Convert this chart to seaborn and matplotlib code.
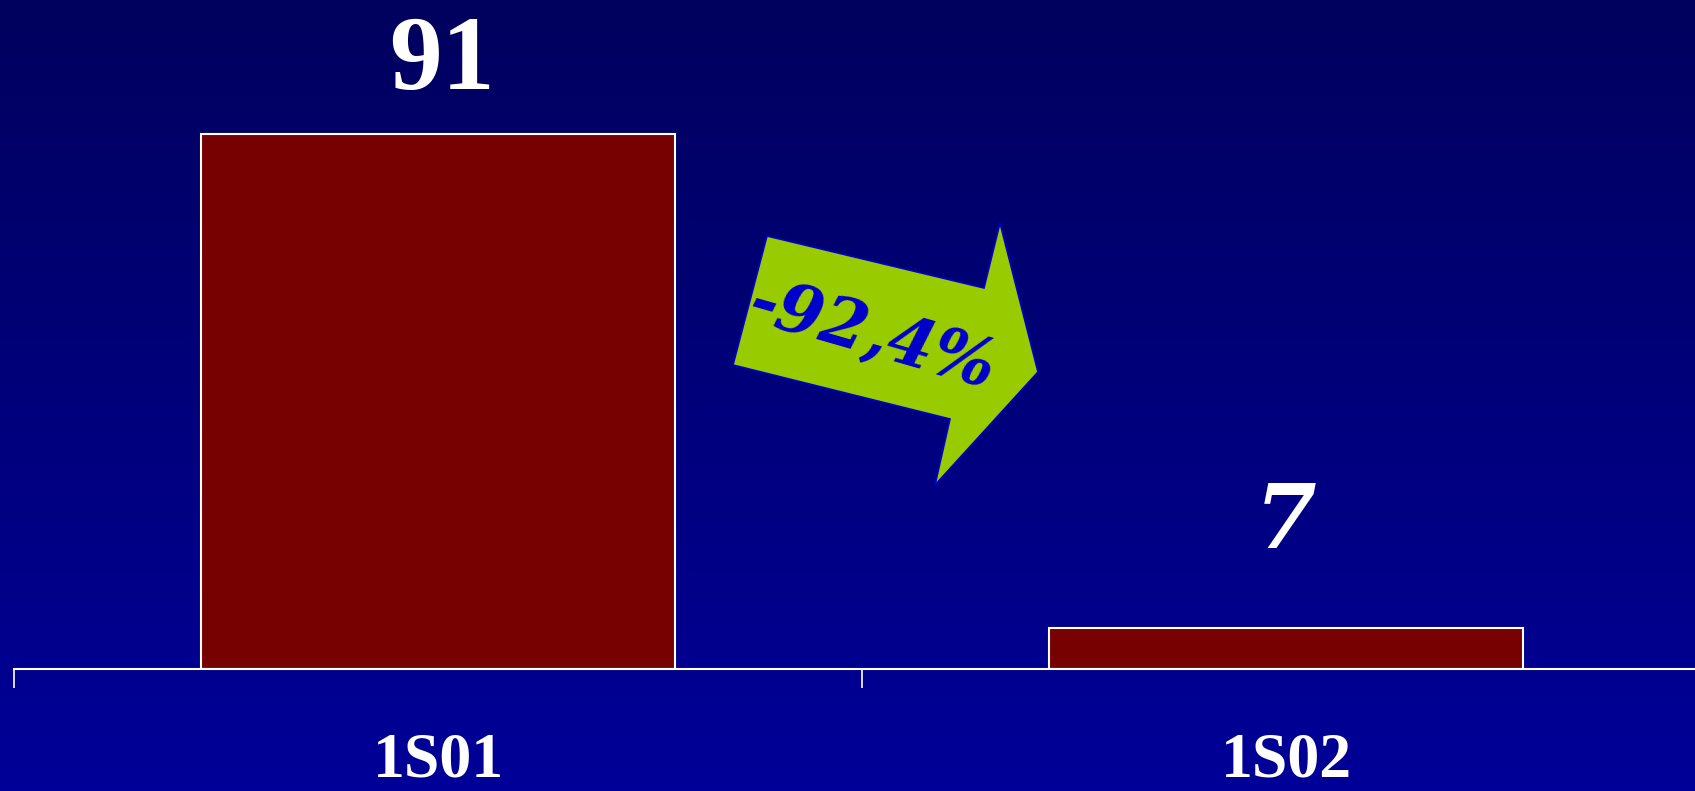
import numpy as np
import pandas as pd
import matplotlib
matplotlib.use("Agg")
import matplotlib.pyplot as plt
from matplotlib.patches import Polygon
import seaborn as sns

# data
categories = ["1S01", "1S02"]
counts = [91, 7]
change_label = "-92,4%"

df = pd.DataFrame({"period": categories, "count": counts})

sns.set_style("white")

fig = plt.figure(figsize=(16.95, 7.91), dpi=100)

# background gradient (dark navy at top -> brighter blue at bottom)
bg = fig.add_axes([0, 0, 1, 1], zorder=0)
grad = np.linspace(0, 1, 256).reshape(-1, 1)
top = np.array([0, 0, 94]) / 255
bottom = np.array([0, 0, 152]) / 255
img = top + (bottom - top) * grad[:, :, None]
bg.imshow(img, aspect="auto", extent=[0, 1, 0, 1])
bg.axis("off")

# main axes: baseline sits at y=669px, category slots 848px wide
ax = fig.add_axes([14 / 1695, 122 / 791, 1696 / 1695, 669 / 791], zorder=1)
ax.patch.set_alpha(0)

sns.barplot(data=df, x="period", y="count", ax=ax, width=0.558,
            color="#770000", edgecolor="white", linewidth=1.5, saturation=1)

ax.set_xlim(-0.5, 1.5)
ax.set_ylim(0, 113.8)
ax.set_xlabel("")
ax.set_ylabel("")
ax.set_yticks([])

for side in ["top", "right", "left"]:
    ax.spines[side].set_visible(False)
ax.spines["bottom"].set_color("white")
ax.spines["bottom"].set_linewidth(1.5)

# boundary ticks between categories, labels centred on bars
ax.set_xticks([-0.5, 0.5, 1.5])
ax.set_xticklabels([])
ax.tick_params(axis="x", which="major", length=14, width=1.2, color="white",
               direction="out", bottom=True)
ax.set_xticks([0, 1], minor=True)
ax.set_xticklabels(categories, minor=True)
ax.tick_params(axis="x", which="minor", length=0, pad=46)
for lbl in ax.get_xticklabels(minor=True):
    lbl.set_fontfamily("Liberation Serif")
    lbl.set_fontweight("bold")
    lbl.set_fontsize(46)
    lbl.set_color("white")

# value labels
ax.annotate(str(counts[0]), (0, counts[0]), xytext=(3, 16), textcoords="offset points",
            ha="center", va="bottom", color="white", fontsize=76,
            fontfamily="Liberation Serif", fontweight="bold")
ax.annotate(str(counts[1]), (1, counts[1]), xytext=(0, 44), textcoords="offset points",
            ha="center", va="bottom", color="white", fontsize=64,
            fontfamily="DejaVu Serif", fontweight="bold", fontstyle="italic")

# green arrow showing the change
px = [(767, 236), (984, 288), (1000, 223), (1038, 372), (935, 485), (950, 419), (733, 365)]
verts = [(x / 1695, 1 - y / 791) for x, y in px]
fig.patches.append(Polygon(verts, closed=True, transform=fig.transFigure,
                           facecolor="#99CC00", edgecolor="#0000CC", linewidth=1.2,
                           zorder=2))
fig.text(872 / 1695, 1 - 336 / 791, change_label, rotation=-16, rotation_mode="anchor",
         ha="center", va="center", color="#0000CC", fontsize=48,
         fontfamily="DejaVu Serif", fontweight="bold", fontstyle="italic", zorder=3)

fig.savefig("out.png", dpi=100)
